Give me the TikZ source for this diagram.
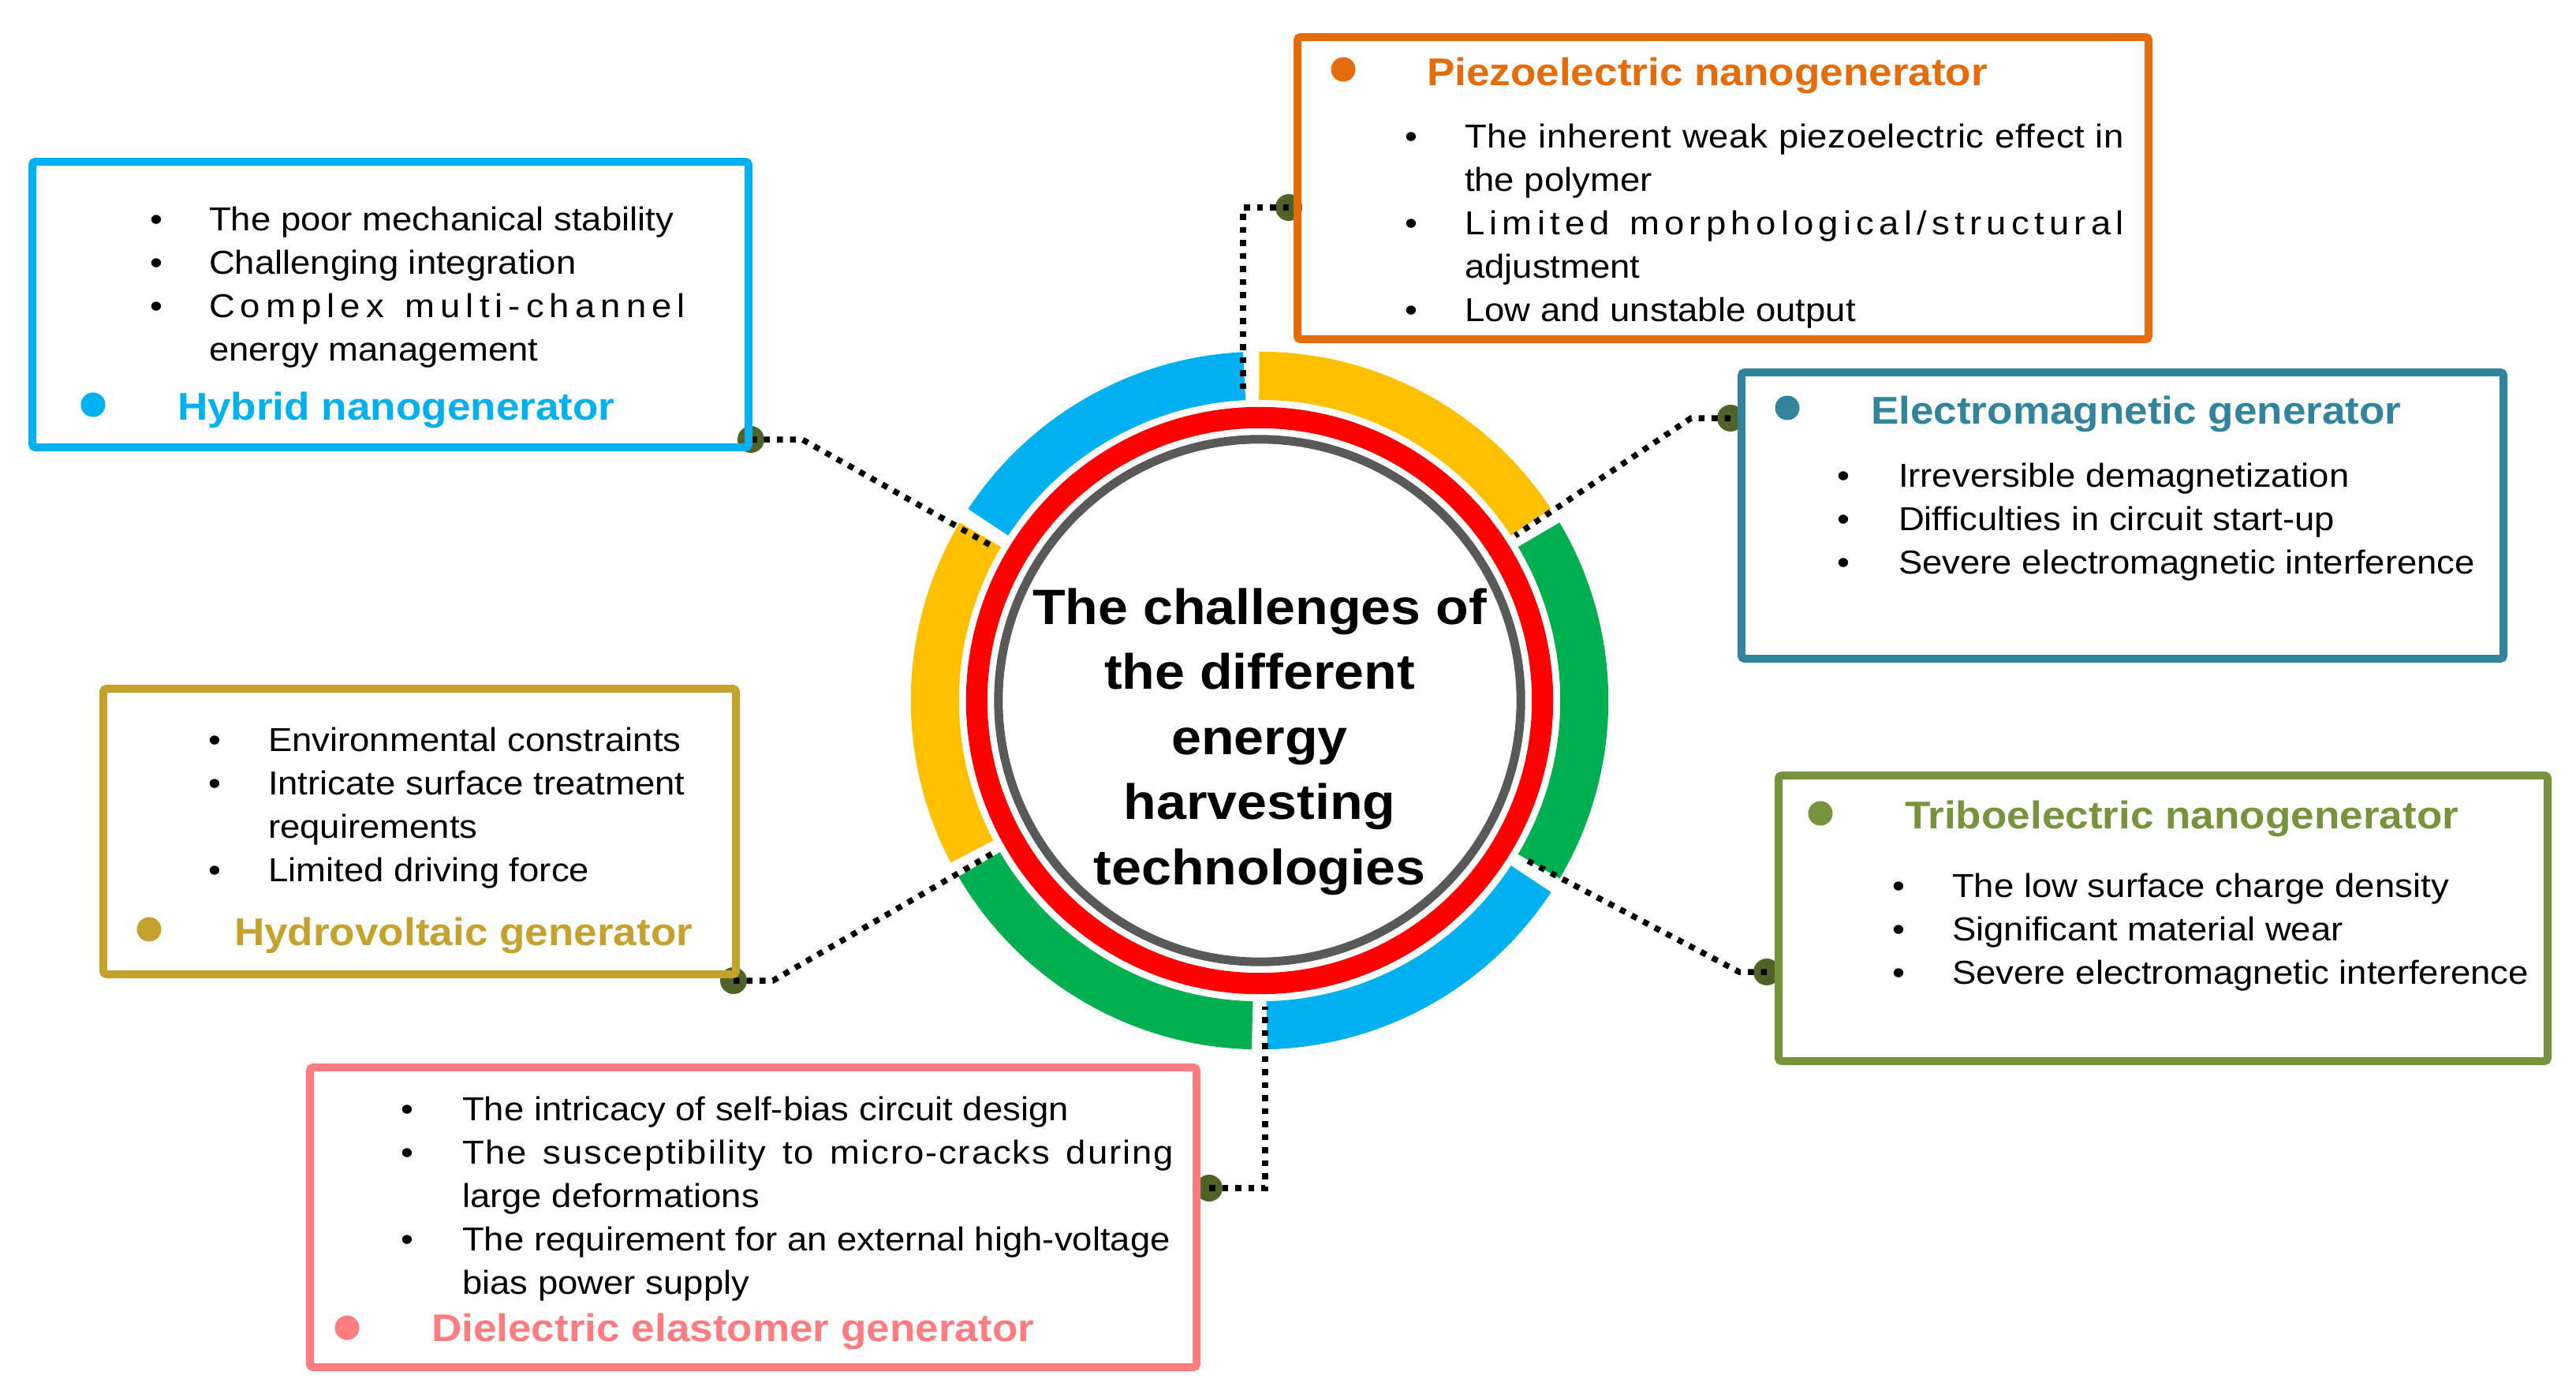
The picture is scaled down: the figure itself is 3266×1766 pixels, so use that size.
\documentclass[tikz,border=0pt]{standalone}
\usepackage{fontspec}
\setmainfont{Liberation Sans}[FakeStretch=1.083]
\usetikzlibrary{calc}
\newlength\pxu \setlength\pxu{0.01cm}
\definecolor{cblue}{HTML}{00B0F0}
\definecolor{cyellow}{HTML}{FFC000}
\definecolor{cgreen}{HTML}{00B050}
\definecolor{cred}{HTML}{FF0000}
\definecolor{cgray}{HTML}{595959}
\definecolor{corange}{HTML}{E46C0A}
\definecolor{cteal}{HTML}{31849B}
\definecolor{cgold}{HTML}{C5A22E}
\definecolor{colive}{HTML}{77933C}
\definecolor{cpink}{HTML}{FF7C80}
\definecolor{cdotc}{HTML}{4F6228}
\tikzset{
  txt/.style={inner sep=0pt, outer sep=0pt, anchor=base west, font=\fontsize{11.95pt}{15.65pt}\selectfont},
  bul/.style={inner sep=0pt, outer sep=0pt, anchor=base, font=\fontsize{11.95pt}{15.65pt}\selectfont},
  ttl/.style={inner sep=0pt, outer sep=0pt, anchor=base west, font=\fontsize{13.94pt}{16pt}\selectfont\bfseries},
  ctr/.style={inner sep=0pt, outer sep=0pt, anchor=base, font=\fontsize{17.9pt}{22pt}\selectfont\bfseries},
  box/.style={draw=#1, line width=10\pxu, inner sep=0pt, rounded corners=4\pxu},
  hdot/.style={circle, fill=#1, minimum size=31\pxu, inner sep=0pt},
  cdot/.style={circle, fill=cdotc, minimum size=34\pxu, inner sep=0pt},
  conn/.style={line width=7.5\pxu, dash pattern=on 7.5\pxu off 9\pxu},
  seg/.style={line width=61\pxu, draw=#1},
}
\begin{document}
\begin{tikzpicture}[x=0.01cm, y=-0.01cm]
\useasboundingbox (0,0) rectangle (3266,1766);
\fill[white] (0,0) rectangle (3266,1766);
\coordinate (C) at (1597,888);
% ring segments
\draw[seg=cblue]   (C) ++(92.7:4.115cm)  arc[start angle=92.7,  end angle=146.7, radius=4.115cm];
\draw[seg=cyellow] (C) ++(33.3:4.115cm)  arc[start angle=33.3,  end angle=90.1,  radius=4.115cm];
\draw[seg=cgreen]  (C) ++(-30.7:4.115cm) arc[start angle=-30.7, end angle=30.7,  radius=4.115cm];
\draw[seg=cblue]   (C) ++(-88.7:4.115cm) arc[start angle=-88.7, end angle=-33.3, radius=4.115cm];
\draw[seg=cgreen]  (C) ++(210.3:4.115cm) arc[start angle=210.3, end angle=268.7, radius=4.115cm];
\draw[seg=cyellow] (C) ++(149.3:4.115cm) arc[start angle=149.3, end angle=207.7, radius=4.115cm];
\draw[draw=cred, line width=27\pxu] (C) circle[radius=3.585cm];
\draw[draw=cgray, line width=11\pxu] (C) circle[radius=3.31cm];
% ring end points of connectors
\coordinate (rt) at (1576,500);
\coordinate (rul) at (1261,694);
\coordinate (rur) at (1921,679);
\coordinate (rlr) at (1931,1088);
\coordinate (rll) at (1258,1082);
\coordinate (rb) at (1604,1276);
% connector dots
\node[cdot] (dp) at (1634,263) {};
\node[cdot] (dh) at (952,557) {};
\node[cdot] (de) at (2194,530) {};
\node[cdot] (dt) at (2240,1232) {};
\node[cdot] (dy) at (930,1243) {};
\node[cdot] (dd) at (1533,1506) {};
% connectors
\draw[conn] (dp.center) -| (rt);
\draw[conn] (dh.center) -- ++(65,0) -- (rul);
\draw[conn] (de.center) -- ++(-50,0) -- (rur);
\draw[conn] (dt.center) -- ++(-35,0) -- (rlr);
\draw[conn] (dy.center) -- ++(50,0) -- (rll);
\draw[conn] (dd.center) -| (rb);
% boxes
\node[box=corange, minimum width=1079\pxu, minimum height=383\pxu] (bpiezo) at (2184.5,238.5) {};
\node[box=cblue,   minimum width=908\pxu,  minimum height=362\pxu] (bhyb) at (495,386) {};
\node[box=cteal,   minimum width=966\pxu,  minimum height=363\pxu] (bem) at (2691,653.5) {};
\node[box=cgold,   minimum width=802\pxu,  minimum height=362\pxu] (bhyd) at (532,1054) {};
\node[box=colive,  minimum width=975\pxu,  minimum height=362\pxu] (btri) at (2742.5,1164) {};
\node[box=cpink,   minimum width=1124\pxu, minimum height=380\pxu] (bdie) at (955,1543) {};
% centre text
\node[ctr] (c1) at (1597,791) {The challenges of};
\node[ctr] (c2) at (1597,873.5) {the different};
\node[ctr] (c3) at (1597,956) {energy};
\node[ctr] (c4) at (1597,1038.5) {harvesting};
\node[ctr] (c5) at (1597,1121) {technologies};
% Piezoelectric
\node[hdot=corange] (hp) at (1703,88) {};
\node[ttl, text=corange] (tp) at (1809,108) {Piezoelectric nanogenerator};
\node[bul] (p1b) at (1789,187) {\textbullet};
\node[txt] (p1) at (1857,187) {\makebox[836\pxu][s]{\addfontfeature{LetterSpace=1.5}The inherent weak piezoelectric effect in}};
\node[txt] (p2) at (1857,242) {the polymer};
\node[bul] (p3b) at (1789,297) {\textbullet};
\node[txt] (p3) at (1857,297) {\makebox[836\pxu][s]{L\hfil i\hfil m\hfil i\hfil t\hfil e\hfil d\hfil\ \hfil m\hfil o\hfil r\hfil p\hfil h\hfil o\hfil l\hfil o\hfil g\hfil i\hfil c\hfil a\hfil l\hfil /\hfil s\hfil t\hfil r\hfil u\hfil c\hfil t\hfil u\hfil r\hfil a\hfil l}};
\node[txt] (p4) at (1857,352) {adjustment};
\node[bul] (p5b) at (1789,407) {\textbullet};
\node[txt] (p5) at (1857,407) {Low and unstable output};
% Hybrid
\node[hdot=cblue] (hh) at (118,513) {};
\node[ttl, text=cblue] (th) at (225,532) {Hybrid nanogenerator};
\node[bul] (h1b) at (198,292) {\textbullet};
\node[txt] (h1) at (265,292) {The poor mechanical stability};
\node[bul] (h2b) at (198,347) {\textbullet};
\node[txt] (h2) at (265,347) {Challenging integration};
\node[bul] (h3b) at (198,402) {\textbullet};
\node[txt] (h3) at (265,402) {\makebox[604\pxu][s]{C\hfil o\hfil m\hfil p\hfil l\hfil e\hfil x\hfil\ \hfil m\hfil u\hfil l\hfil t\hfil i\hfil -\hfil c\hfil h\hfil a\hfil n\hfil n\hfil e\hfil l}};
\node[txt] (h4) at (265,457) {energy management};
% Electromagnetic
\node[hdot=cteal] (he) at (2266,517) {};
\node[ttl, text=cteal] (te) at (2372,537) {Electromagnetic generator};
\node[bul] (e1b) at (2337,617) {\textbullet};
\node[txt] (e1) at (2407,617) {Irreversible demagnetization};
\node[bul] (e2b) at (2337,672) {\textbullet};
\node[txt] (e2) at (2407,672) {Difficulties in circuit start-up};
\node[bul] (e3b) at (2337,727) {\textbullet};
\node[txt] (e3) at (2407,727) {Severe electromagnetic interference};
% Hydrovoltaic
\node[hdot=cgold] (hy) at (189,1178) {};
\node[ttl, text=cgold] (ty) at (297,1198) {Hydrovoltaic generator};
\node[bul] (y1b) at (272,952) {\textbullet};
\node[txt] (y1) at (340,952) {Environmental constraints};
\node[bul] (y2b) at (272,1007) {\textbullet};
\node[txt] (y2) at (340,1007) {Intricate surface treatment};
\node[txt] (y3) at (340,1062) {requirements};
\node[bul] (y4b) at (272,1117) {\textbullet};
\node[txt] (y4) at (340,1117) {Limited driving force};
% Triboelectric
\node[hdot=colive] (ht) at (2308,1031) {};
\node[ttl, text=colive] (tt) at (2415,1050) {Triboelectric nanogenerator};
\node[bul] (t1b) at (2407,1137) {\textbullet};
\node[txt] (t1) at (2475,1137) {The low surface charge density};
\node[bul] (t2b) at (2407,1192) {\textbullet};
\node[txt] (t2) at (2475,1192) {Significant material wear};
\node[bul] (t3b) at (2407,1247) {\textbullet};
\node[txt] (t3) at (2475,1247) {Severe electromagnetic interference};
% Dielectric
\node[hdot=cpink] (hd) at (440,1683) {};
\node[ttl, text=cpink] (td) at (547,1700) {Dielectric elastomer generator};
\node[bul] (d1b) at (516,1420) {\textbullet};
\node[txt] (d1) at (586,1420) {The intricacy of self-bias circuit design};
\node[bul] (d2b) at (516,1475) {\textbullet};
\node[txt] (d2) at (586,1475) {\makebox[902\pxu][s]{\addfontfeature{LetterSpace=4.5}The susceptibility to micro-cracks during}};
\node[txt] (d3) at (586,1530) {large deformations};
\node[bul] (d4b) at (516,1585) {\textbullet};
\node[txt] (d4) at (586,1585) {\makebox[898\pxu][s]{The requirement for an external high-voltage}};
\node[txt] (d5) at (586,1640) {bias power supply};
\end{tikzpicture}
\end{document}
